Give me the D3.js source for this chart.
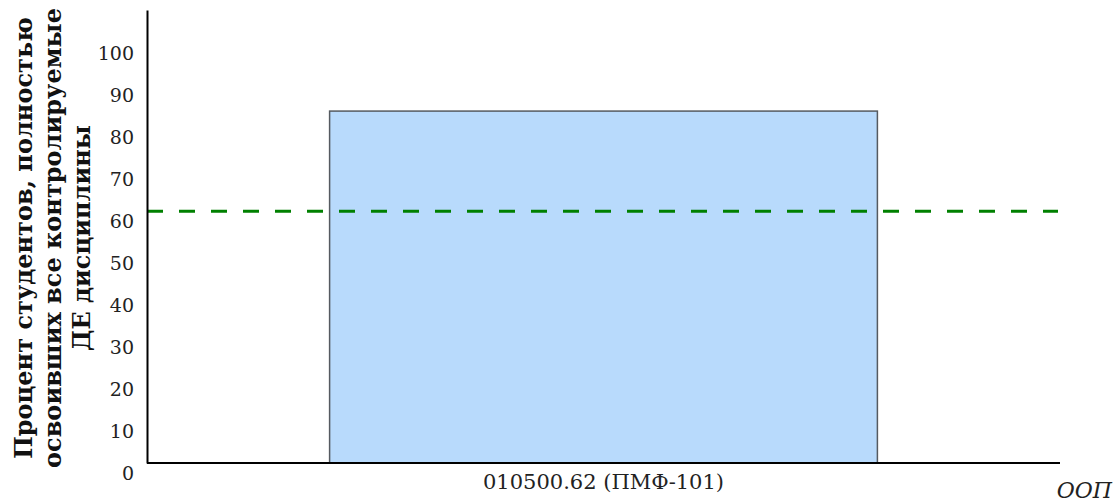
<!DOCTYPE html>
<html><head><meta charset="utf-8">
<script src="https://cdn.jsdelivr.net/npm/d3@7"></script>
<style>body{margin:0;background:#fff}svg{display:block}</style>
</head><body>
<script>
const categories = ["010500.62 (ПМФ-101)"];
const values = [83.9];
const thresholdValue = [60];
const yTicks = [0,10,20,30,40,50,60,70,80,90,100];
const yLabelLines = ["Процент студентов, полностью","освоивших все контролируемые","ДЕ дисциплины"];
const xAxisTitle = "ООП";

const W = 1118, H = 503;
const m = {left:147, right:58, top:10, bottom:40};
const svg = d3.select("body").append("svg").attr("width",W).attr("height",H);

const y = d3.scaleLinear().domain([0,108]).range([H-m.bottom, m.top]);
const x = d3.scaleBand().domain(categories).range([m.left, W-m.right]).paddingInner(0).paddingOuter(1/3);

// bars
svg.selectAll("rect.bar").data(values).join("rect")
  .attr("class","bar")
  .attr("x",(d,i)=>x(categories[i]))
  .attr("y",d=>y(d))
  .attr("width",x.bandwidth())
  .attr("height",d=>y(0)-y(d))
  .attr("fill","#b8dafc").attr("stroke","#555a60").attr("stroke-width",1.5);

// threshold
svg.selectAll("line.thr").data(thresholdValue).join("line")
  .attr("x1",m.left).attr("x2",W-m.right-2)
  .attr("y1",d=>y(d)).attr("y2",d=>y(d))
  .attr("stroke","#008000").attr("stroke-width",3).attr("stroke-dasharray","16,16");

// y axis
const ya = svg.append("g").attr("transform",`translate(${m.left},0)`)
  .call(d3.axisLeft(y).tickValues(yTicks).tickSize(0).tickPadding(13));
ya.select(".domain").attr("stroke","#000").attr("stroke-width",2);
ya.selectAll("text").attr("font-family","DejaVu Serif").attr("font-size",19).attr("fill","#222").attr("dy",16);

// x axis
const xa = svg.append("g").attr("transform",`translate(0,${y(0)})`)
  .call(d3.axisBottom(x).tickSize(0));
xa.select(".domain").attr("stroke","#000").attr("stroke-width",2).attr("d",`M${m.left},0H${W-m.right}`);
xa.selectAll("text").attr("font-family","DejaVu Serif").attr("font-size",21).attr("fill","#222").attr("y",0).attr("dy",26);

svg.append("text").attr("x",1112).attr("y",498).attr("text-anchor","end")
  .attr("font-family","DejaVu Serif").attr("font-style","italic").attr("font-size",22).attr("fill","#222").text(xAxisTitle);

// y title
svg.selectAll("text.ytitle").data(yLabelLines).join("text")
  .attr("class","ytitle")
  .attr("transform",(d,i)=>`translate(${32+i*29},238) rotate(-90)`)
  .attr("text-anchor","middle").attr("font-family","DejaVu Serif").attr("font-weight","bold").attr("font-size",24).attr("fill","#111")
  .text(d=>d);
</script>
</body></html>
